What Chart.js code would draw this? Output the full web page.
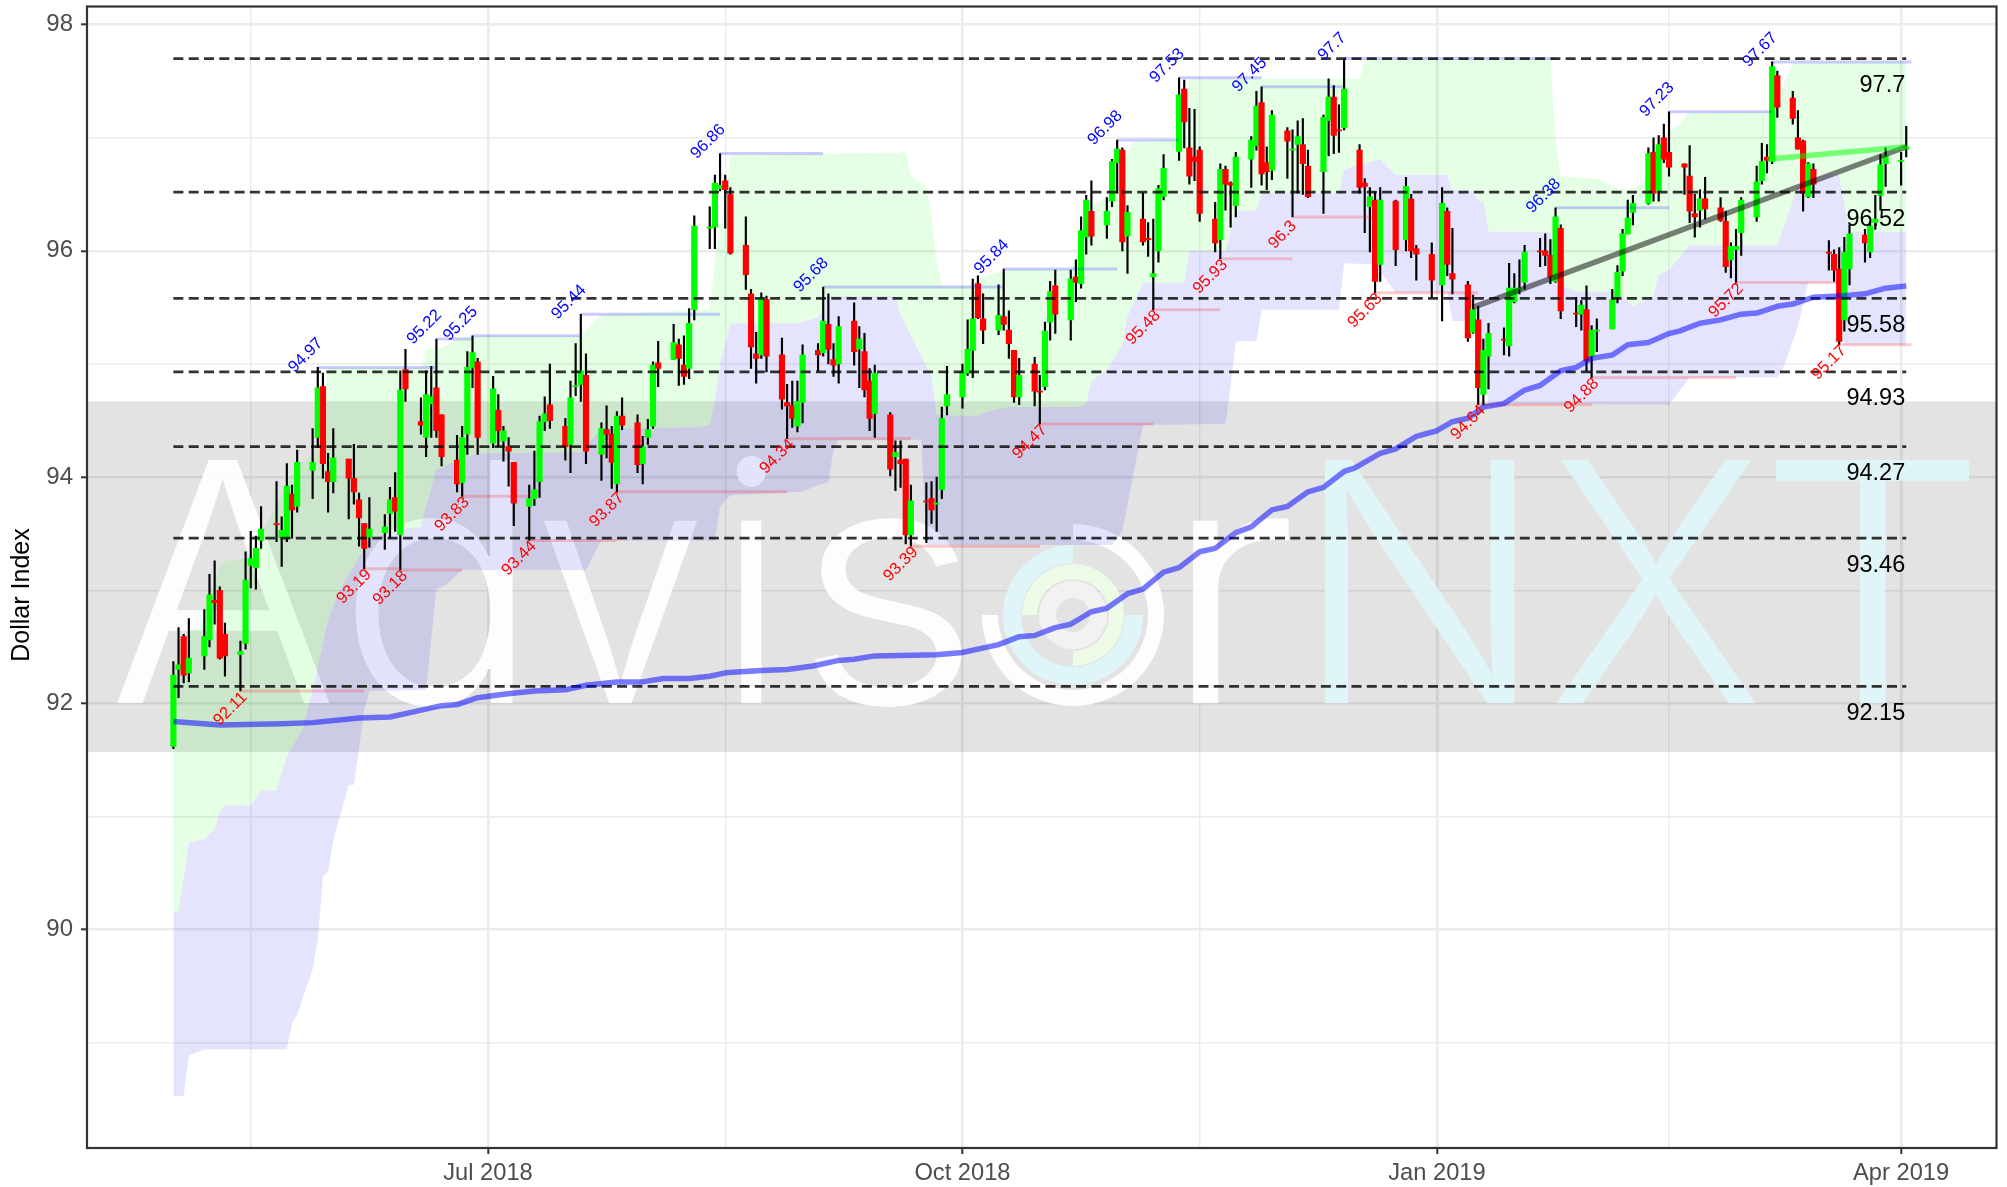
<!DOCTYPE html>
<html>
<head>
<meta charset="utf-8">
<title>Dollar Index</title>
<style>html,body{margin:0;padding:0;background:#fff}canvas{display:block}</style>
<script src="https://cdn.jsdelivr.net/npm/chart.js@4/dist/chart.umd.min.js"></script>
</head>
<body>
<canvas id="c" width="2007" height="1187"></canvas>
<script>
// Day numbers count calendar days from 1 May 2018.
const days = [0,1,2,3, 6,7,8,9,10, 13,14,15,16,17, 20,21,22,23,24, 27,28,29,30,31, 34,35,36,37,38, 41,42,43,44,45, 48,49,50,51,52, 55,56,57,58,59,
 62,63,64,65,66, 69,70,71,72,73, 76,77,78,79,80, 83,84,85,86,87, 90,91,92,93,94, 97,98,99,100,101, 104,105,106,107,108, 111,112,113,114,115, 118,119,120,121,122,
 125,126,127,128,129, 132,133,134,135,136, 139,140,141,142,143, 146,147,148,149,150, 153,154,155,156,157, 160,161,162,163,164, 167,168,169,170,171, 174,175,176,177,178, 181,182,183,184,185,
 188,189,190,191,192, 195,196,197,198,199, 202,203,204,205,206, 209,210,211,212,213, 216,217,218,219,220, 223,224,225,226,227, 230,231,232,233,234, 237,239,240,241, 244,246,247,248,
 251,252,253,254,255, 258,259,260,261,262, 265,266,267,268,269, 272,273,274,275,276, 279,280,281,282,283, 286,287,288,289,290, 293,294,295,296,297, 300,301,302,303,304,
 307,308,309,310,311, 314,315,316,317,318, 321,322,323,324,325, 328,329,330,331,332, 335,336];

const opens = [91.62,92.30,92.59,92.27, 92.42,92.56,92.91,93.00,92.61, 92.43,92.53,93.22,93.20,93.44, 93.59,93.46,93.46,93.85,93.74, 94.06,94.35,94.80,94.05,93.96, 94.16,93.99,93.80,93.59,93.47, 93.51,93.68,93.82,93.49,94.95, 94.49,94.35,94.65,94.79,94.55, 94.15,93.95,94.38,94.97,95.02,
 94.30,94.59,94.32,94.27,94.13, 93.74,93.81,93.96,94.49,94.64, 94.45,94.29,94.80,94.82,94.90, 94.20,94.42,94.38,93.94,94.54, 94.48,94.12,94.35,94.45,95.01, 95.04,95.17,94.99,94.96,95.48, 96.20,96.21,96.55,96.62,96.50, 96.05,95.62,95.09,95.08,95.57, 95.08,94.66,94.63,94.45,94.66,
 95.12,95.10,95.35,95.04,95.00, 95.38,95.13,95.11,94.85,94.56, 94.55,94.18,94.15,94.16,93.49, 93.79,93.81,93.76,93.89,94.63, 94.71,94.92,95.12,95.71,95.40, 95.30,95.42,95.30,95.12,94.71, 95.00,94.76,94.80,95.37,95.69, 95.39,95.77,95.71,96.12,96.35,
 96.23,96.44,96.78,96.89,96.13, 96.28,96.11,95.77,96.00,96.48, 96.88,97.43,96.91,96.83,96.89, 96.28,96.10,96.72,96.60,96.40, 96.81,96.93,97.31,96.78,96.71, 97.06,96.89,96.94,96.94,96.75, 96.70,97.15,97.36,97.07,97.09, 96.89,96.60,96.39,96.45,95.88, 96.44,96.10,96.46,96.02, 95.97,95.70,96.35,95.80,
 95.70,95.28,95.39,94.73,95.07, 95.22,95.16,95.55,95.66,95.72, 96.00,96.00,95.96,95.73,96.20, 95.45,95.44,95.48,95.07,95.29, 95.31,95.59,95.82,96.15,96.34, 96.42,96.87,96.53,97.00,96.87, 96.77,96.66,96.33,96.36,96.46, 96.38,96.26,95.92,96.01,96.16,
 96.30,96.62,96.83,96.79,97.55, 97.35,97.00,96.97,96.48,96.72, 95.99,95.97,95.84,95.39,95.84, 96.14,95.99,96.25,96.49,96.77, 96.79,96.90];

const highs = [92.37,92.67,92.61,92.75, 92.83,93.14,93.26,93.03,92.71, 92.55,93.34,93.52,93.48,93.74, 93.96,93.65,94.12,93.93,94.24, 94.43,94.97,94.92,94.21,94.43, 94.16,94.29,93.86,93.59,93.82, 93.67,93.91,94.04,94.94,95.13, 94.70,94.94,94.98,95.22,94.55, 94.37,94.45,95.11,95.25,95.05,
 94.89,94.73,94.45,94.35,94.13, 93.93,94.23,94.54,94.71,95.00, 94.52,94.85,95.18,95.44,95.09, 94.48,94.63,94.45,94.58,94.70, 94.55,94.36,94.51,95.02,95.20, 95.35,95.22,95.25,95.49,96.31, 96.39,96.67,96.86,96.67,96.56, 96.30,95.66,95.28,95.63,95.60, 95.23,94.82,94.85,94.85,95.17,
 95.18,95.68,95.62,95.18,95.42, 95.54,95.33,95.27,94.96,94.99, 94.57,94.32,94.32,94.16,93.93, 93.95,93.96,94.00,94.62,94.98, 95.00,95.39,95.75,95.78,95.62, 95.70,95.84,95.47,95.12,95.05, 95.06,94.90,95.37,95.73,95.83, 95.83,95.92,96.30,96.49,96.62,
 96.47,96.81,96.98,96.91,96.40, 96.51,96.25,96.28,96.58,96.85, 97.53,97.51,97.26,97.25,96.92, 96.43,96.77,96.75,96.61,96.87, 97.01,97.41,97.45,96.92,97.24, 97.09,97.07,97.15,97.17,96.89, 97.20,97.52,97.46,97.29,97.70, 96.94,96.64,96.56,96.52,96.56, 96.45,96.65,96.50,96.05, 96.07,96.56,96.38,96.20,
 95.73,95.61,95.51,95.22,95.36, 95.32,95.89,95.80,95.92,96.05, 96.11,96.15,96.10,96.38,96.23, 95.59,95.56,95.69,95.34,95.40, 95.66,95.87,96.19,96.45,96.49, 96.91,97.00,97.02,97.12,97.23, 96.77,96.93,96.50,96.54,96.65, 96.47,96.35,96.07,96.19,96.47,
 96.75,96.95,96.94,97.67,97.59, 97.41,97.24,96.98,96.78,96.77, 96.09,96.01,96.03,96.12,96.23, 96.19,96.26,96.49,96.85,96.91, 96.87,97.10];

const lows = [91.60,92.05,92.18,92.19, 92.30,92.50,92.70,92.39,92.24, 92.11,92.48,93.02,93.01,93.37, 93.43,93.21,93.43,93.46,93.69, 93.81,94.26,93.99,93.69,93.86, 93.63,93.76,93.39,93.19,93.38, 93.36,93.46,93.52,93.18,94.67, 94.38,94.18,94.35,94.35,94.10, 93.87,93.83,94.20,94.79,94.20,
 94.26,94.27,94.14,93.92,93.57, 93.44,93.75,93.82,94.41,94.43, 94.15,94.04,94.72,94.67,94.12, 93.97,94.17,93.90,93.87,94.42, 94.04,93.94,94.29,94.43,94.80, 95.04,94.81,94.82,94.87,95.39, 96.02,96.02,96.53,96.20,95.97, 95.66,94.96,94.83,95.05,94.93, 94.60,94.34,94.44,94.40,94.48,
 94.94,95.07,95.00,94.89,94.83, 94.99,94.79,94.71,94.41,94.35, 94.01,93.88,93.91,93.41,93.39, 93.42,93.59,93.52,93.81,94.55, 94.61,94.90,94.88,95.40,95.18, 95.26,95.30,95.05,94.66,94.64, 94.63,94.47,94.77,95.21,95.27, 95.21,95.55,95.67,95.97,96.05,
 96.11,96.39,96.51,96.00,95.80, 96.05,95.95,95.48,95.90,96.45, 96.80,96.91,96.59,96.62,96.26, 95.99,95.93,96.36,96.21,96.30, 96.56,96.89,96.58,96.54,96.63, 96.64,96.30,96.51,96.50,96.47, 96.33,96.84,96.86,96.87,97.07, 96.51,96.16,95.99,95.63,95.73, 95.87,96.00,95.94,95.74, 95.59,95.38,95.78,95.62,
 95.20,95.27,94.64,94.64,94.78, 95.08,95.07,95.54,95.62,95.66, 95.86,95.87,95.71,95.72,95.40, 95.33,95.30,94.94,94.88,95.11, 95.31,95.54,95.78,96.15,96.23, 96.41,96.44,96.44,96.78,96.66, 96.50,96.25,96.12,96.21,96.28, 96.26,95.81,95.76,95.72,95.96,
 96.26,96.59,96.69,96.77,97.18, 97.12,96.90,96.35,96.47,96.47, 95.83,95.73,95.17,95.29,95.70, 95.90,95.94,96.19,96.36,96.57, 96.58,96.83];

const closes = [92.25,92.34,92.25,92.40, 92.59,92.96,92.89,92.40,92.42, 92.46,93.09,93.28,93.37,93.54, 93.58,93.53,93.92,93.71,94.13, 94.13,94.79,94.12,93.96,94.17, 93.99,93.87,93.64,93.37,93.54, 93.56,93.80,93.70,94.77,94.78, 94.46,94.73,94.71,94.41,94.18, 93.94,94.35,94.97,95.10,94.35,
 94.78,94.41,94.41,94.23,93.77, 93.81,93.89,94.49,94.56,94.50, 94.27,94.70,94.81,94.94,94.23, 94.43,94.38,94.13,94.54,94.46, 94.11,94.27,94.42,94.99,94.96, 95.19,95.05,94.89,95.36,96.22, 96.21,96.60,96.58,96.54,95.98, 95.79,95.15,95.05,95.58,95.07, 94.69,94.63,94.52,94.67,95.08,
 95.08,95.38,95.13,94.99,95.33, 95.11,95.22,94.77,94.52,94.92, 94.07,94.22,94.12,93.49,93.79, 93.78,93.71,93.77,94.52,94.73, 94.93,95.13,95.40,95.41,95.30, 95.43,95.35,95.18,94.71,94.90, 94.76,94.75,95.29,95.64,95.44, 95.75,95.72,96.18,96.45,96.13,
 96.35,96.79,96.90,96.08,96.34, 96.08,96.10,95.80,96.55,96.73, 97.38,97.14,96.66,96.79,96.33, 96.07,96.72,96.59,96.58,96.83, 96.98,97.28,96.68,96.70,97.20, 96.97,96.90,97.01,96.77,96.48, 97.18,97.36,97.02,97.06,97.43, 96.56,96.57,96.48,95.73,96.45, 96.01,96.57,96.00,95.97, 95.74,96.42,95.88,95.75,
 95.23,95.48,94.79,95.12,95.27, 95.21,95.67,95.67,95.67,95.99, 95.99,95.96,95.77,96.30,95.47, 95.44,95.52,95.03,95.30,95.30, 95.57,95.81,96.15,96.29,96.42, 96.86,96.51,96.94,96.81,96.74, 96.74,96.35,96.30,96.46,96.37, 96.27,95.86,96.04,96.04,96.45,
 96.61,96.79,96.80,97.63,97.27, 97.17,96.90,96.51,96.77,96.59, 95.98,95.83,95.20,95.99,96.15, 96.07,96.22,96.28,96.76,96.84, 96.80,96.92];

const maDays = [0,9,21,27,36,42,47,52,55,59,64,70,76,80,86,91,95,100,104,107,114,119,124,129,132,136,148,153,158,160,164,167,171,174,178,181,185,188,192,195,199,202,206,209,213,216,220,223,227,229,234,237,241,245,248,251,254,258,262,265,269,272,275,279,282,286,290,292,296,300,304,307,311,314,318,323,328,332,336];
const maValues = [91.84,91.81,91.82,91.83,91.87,91.88,91.93,91.98,91.99,92.05,92.08,92.11,92.12,92.16,92.19,92.19,92.22,92.22,92.24,92.27,92.29,92.30,92.33,92.38,92.39,92.42,92.43,92.45,92.50,92.52,92.59,92.60,92.67,92.70,92.81,92.84,92.97,93.01,93.16,93.20,93.34,93.37,93.51,93.56,93.71,93.74,93.87,93.91,94.05,94.08,94.21,94.25,94.36,94.41,94.49,94.52,94.62,94.65,94.77,94.81,94.94,94.97,95.05,95.08,95.17,95.19,95.27,95.29,95.36,95.39,95.44,95.45,95.51,95.53,95.59,95.60,95.62,95.67,95.69];

const upperDays = [0,1,3,5,9,10,15,17,20,22,24,27,28,30,48,49,52,55,59,79,83,104,105,107,108,142,143,146,147,148,149,155,156,162,174,177,178,181,183,184,186,195,197,230,231,267,268,269,276,279,282,285,288,292,294,310,314,336];
const upperValues = [92.24,92.45,92.65,92.66,93.21,93.26,93.28,93.5,93.75,93.95,94.1,94.2,94.27,94.97,94.97,95.13,95.14,95.22,95.25,95.25,95.44,95.48,95.92,96.45,96.85,96.87,96.67,96.56,96.31,95.9,95.69,95.69,95.75,95.84,95.84,96.16,96.39,96.48,96.50,96.75,96.97,96.98,97.52,97.52,97.70,97.70,96.98,96.66,96.64,96.57,96.53,96.6,97.0,97.12,97.22,97.23,97.66,97.67];

const midDays = [0,1,3,6,8,9,10,15,17,20,22,25,27,30,32,36,38,44,48,49,51,52,55,59,79,83,101,104,105,106,108,121,125,127,140,141,147,148,156,157,162,176,177,178,181,184,185,188,196,197,204,206,210,211,226,227,234,237,247,248,252,253,254,255,267,269,272,280,283,287,288,290,294,311,315,317,321,323,325,336];
const midValues = [90.16,90.16,90.77,90.80,90.89,91.04,91.10,91.10,91.23,91.23,91.53,91.77,92.12,92.74,92.98,93.29,93.45,93.54,93.56,93.74,94.07,94.08,94.15,94.21,94.22,94.43,94.44,94.46,94.68,95.0,95.36,95.36,95.41,95.60,95.60,95.44,94.89,94.55,94.54,94.57,94.62,94.62,94.65,94.85,94.95,95.17,95.42,95.72,95.72,96.0,96.0,96.36,96.36,96.51,96.51,96.72,96.81,96.67,96.67,96.54,96.53,96.44,96.44,96.17,96.17,95.69,95.64,95.64,95.51,95.60,95.79,95.83,96.05,96.05,96.57,96.63,96.68,96.67,96.17,96.17];

const lowerDays = [0,2,3,6,22,23,24,27,28,29,30,31,34,35,36,37,38,49,51,53,56,80,83,105,106,108,122,125,127,128,129,145,146,182,184,188,204,205,206,210,211,226,227,233,237,247,248,252,255,290,294,311,312,315,317,323,324,336];
const lowerValues = [88.53,88.53,88.89,88.94,88.94,89.17,89.25,89.65,89.91,90.47,90.51,90.79,91.28,91.28,91.59,91.94,92.11,92.12,93.01,93.05,93.18,93.18,93.44,93.44,93.74,93.84,93.87,93.93,93.95,94.24,94.33,94.33,93.40,93.40,93.52,94.46,94.47,94.80,95.20,95.20,95.48,95.48,95.89,95.88,95.63,95.63,95.38,95.38,94.65,94.64,94.88,94.88,94.95,95.33,95.72,95.72,95.17,95.17];

const swingHighDays = [28,51,58,79,106,126,161,183,195,211,227,268,290,310];
const swingHighValues = [94.97,95.22,95.25,95.44,96.86,95.68,95.84,96.98,97.53,97.45,97.7,96.38,97.23,97.67];
const swingLowDays = [13,37,44,56,69,86,119,143,168,190,203,217,233,253,275,303,323];
const swingLowValues = [92.11,93.19,93.18,93.83,93.44,93.87,94.34,93.39,94.47,95.48,95.93,96.3,95.63,94.64,94.88,95.72,95.17];
const swingEndDay = 337;

const levelValues = [97.7,96.52,95.58,94.93,94.27,93.46,92.15];
const levelStartDay = 0, levelEndDay = 336;

const grayTrendDays = [252,336];
const grayTrendValues = [95.50,96.92];
const greenTrendDays = [309,336];
const greenTrendValues = [96.81,96.92];

const bandLow = 91.57, bandHigh = 94.67;

const xMajorDays = [61,153,245,335];
const xMajorLabels = ['Jul 2018','Oct 2018','Jan 2019','Apr 2019'];
const xMinorDays = [15,107,199,290];
const yMajorTicks = [90,92,94,96,98];
const yMinorTicks = [89,91,93,95,97];
const yAxisTitle = 'Dollar Index';

const FONT = '"Liberation Sans", Arial, sans-serif';
const zip = (xs, ys) => xs.map((x, i) => ({x, y: ys[i]}));

function swingSegments(ds, vs) {
  const out = [];
  ds.forEach((d, i) => {
    const end = i + 1 < ds.length ? ds[i + 1] : swingEndDay;
    out.push({x: d, y: vs[i]}, {x: end, y: vs[i]}, {x: end, y: null});
  });
  return out;
}
function levelSegments() {
  const out = [];
  levelValues.forEach(v => out.push({x: levelStartDay, y: v}, {x: levelEndDay, y: v}, {x: levelEndDay, y: null}));
  return out;
}

const lineBase = {type: 'line', pointRadius: 0, tension: 0, fill: false, spanGaps: false};

const backdrop = {
  id: 'backdrop',
  beforeDatasetsDraw(chart) {
    const {ctx, chartArea: a, scales: {y}} = chart;
    const top = y.getPixelForValue(bandHigh), bot = y.getPixelForValue(bandLow);
    ctx.save();
    ctx.fillStyle = 'rgba(0,0,0,0.11)';
    ctx.fillRect(a.left, top, a.right - a.left, bot - top);

    // Watermark
    ctx.beginPath(); ctx.rect(a.left, top, a.right - a.left, bot - top); ctx.clip();
    ctx.globalAlpha = 0.93;
    const base = 703, size = 334;
    ctx.font = '350 ' + size + 'px Inter, "Open Sans", sans-serif';
    ctx.textBaseline = 'alphabetic';
    ctx.textAlign = 'left';
    const letters = [
      ['A', 113, 333, '#ffffff'], ['d', 353, 517, '#ffffff'], ['v', 543, 700, '#ffffff'],
      ['i', 735, 768, '#ffffff'], ['s', 811, 964, '#ffffff'], ['r', 1191, 1292, '#ffffff'],
      ['N', 1324, 1517, '#e0f6fa'], ['X', 1552, 1758, '#e0f6fa'], ['T', 1774, 1973, '#e0f6fa']
    ];
    letters.forEach(([ch, x0, x1, col]) => {
      const m = ctx.measureText(ch);
      const w = m.actualBoundingBoxLeft + m.actualBoundingBoxRight;
      const sx = (x1 - x0) / w;
      ctx.save();
      ctx.translate(x0 + m.actualBoundingBoxLeft * sx, base);
      ctx.scale(sx, 1);
      ctx.fillStyle = col;
      ctx.fillText(ch, 0, 0);
      ctx.restore();
    });
    // Logo rings forming the "o"
    const cx = 1073, cy = 615, rad = Math.PI / 180;
    const ring = (r0, r1, a0, a1, col) => {
      ctx.beginPath();
      ctx.arc(cx, cy, r1, a0 * rad, a1 * rad);
      ctx.arc(cx, cy, r0, a1 * rad, a0 * rad, true);
      ctx.closePath();
      ctx.fillStyle = col;
      ctx.fill();
    };
    ring(75, 91, -90, 180, '#ffffff');
    ring(52, 70, 0, 270, '#e0f6fa');
    ring(36, 51, 180, 450, '#eefce6');
    ring(17, 34, 0, 360, '#f3f3f3');
    ctx.restore();
  }
};

const foreground = {
  id: 'foreground',
  afterDatasetsDraw(chart) {
    const {ctx, scales: {x, y}} = chart;
    ctx.save();
    ctx.font = '16.5px ' + FONT;
    ctx.textAlign = 'center';
    ctx.textBaseline = 'middle';
    const swingText = (ds, vs, col, dx, dy) => {
      ctx.fillStyle = col;
      ds.forEach((d, i) => {
        ctx.save();
        ctx.translate(x.getPixelForValue(d) + dx, y.getPixelForValue(vs[i]) + dy);
        ctx.rotate(-Math.PI / 4);
        ctx.fillText(String(vs[i]), 0, 0);
        ctx.restore();
      });
    };
    swingText(swingHighDays, swingHighValues, '#0000ff', -12, -12);
    swingText(swingLowDays, swingLowValues, '#ff0000', -10, 18);

    ctx.font = '23.5px ' + FONT;
    ctx.textAlign = 'right';
    ctx.fillStyle = '#000000';
    levelValues.forEach(v => {
      ctx.fillText(String(v), x.getPixelForValue(levelEndDay) - 1, y.getPixelForValue(v) + 27);
    });
    ctx.restore();
  },
  afterDraw(chart) {
    const {ctx, chartArea: a} = chart;
    ctx.save();
    ctx.strokeStyle = '#333333';
    ctx.lineWidth = 2.2;
    ctx.strokeRect(a.left, a.top, a.right - a.left, a.bottom - a.top);
    // Axis title
    ctx.translate(22, 595);
    ctx.rotate(-Math.PI / 2);
    ctx.font = '25px ' + FONT;
    ctx.fillStyle = '#000000';
    ctx.textAlign = 'center';
    ctx.textBaseline = 'middle';
    ctx.fillText(yAxisTitle, 0, 0);
    ctx.restore();
  }
};

new Chart(document.getElementById('c').getContext('2d'), {
  type: 'bar',
  data: {
    datasets: [
      {...lineBase, label: 'Upper', order: 100, data: zip(upperDays, upperValues), borderWidth: 0, borderColor: 'transparent',
        fill: '+1', backgroundColor: 'rgba(0,255,0,0.105)'},
      {...lineBase, label: 'Mid', order: 99, data: zip(midDays, midValues), borderWidth: 0, borderColor: 'transparent',
        fill: '+1', backgroundColor: 'rgba(0,0,255,0.105)'},
      {...lineBase, label: 'Lower', order: 98, data: zip(lowerDays, lowerValues), borderWidth: 0, borderColor: 'transparent'},
      {type: 'bar', label: 'Range', order: 50, grouped: false, barThickness: 1.5, backgroundColor: '#000000',
        data: days.map((d, i) => ({x: d, y: [lows[i], highs[i]]}))},
      {type: 'bar', label: 'Body', order: 40, grouped: false, barThickness: 5.5,
        backgroundColor: days.map((d, i) => closes[i] >= opens[i] ? '#00ff00' : '#ff0000'),
        data: days.map((d, i) => ({x: d, y: [opens[i], closes[i]]}))},
      {...lineBase, label: 'Swing highs', order: 30, data: swingSegments(swingHighDays, swingHighValues), borderWidth: 3, borderColor: 'rgba(0,0,255,0.2)', borderCapStyle: 'butt'},
      {...lineBase, label: 'Swing lows', order: 29, data: swingSegments(swingLowDays, swingLowValues), borderWidth: 3, borderColor: 'rgba(255,0,0,0.2)', borderCapStyle: 'butt'},
      {...lineBase, label: 'Levels', order: 20, data: levelSegments(), borderWidth: 2.7, borderColor: 'rgba(0,0,0,0.8)', borderDash: [10, 5.3]},
      {...lineBase, label: 'Average', order: 10, data: zip(maDays, maValues), borderWidth: 5.5, borderColor: 'rgba(0,0,255,0.52)', borderJoinStyle: 'round'},
      {...lineBase, label: 'Trend', order: 5, data: zip(grayTrendDays, grayTrendValues), borderWidth: 5.5, borderColor: 'rgba(0,0,0,0.5)'},
      {...lineBase, label: 'Trend 2', order: 4, data: zip(greenTrendDays, greenTrendValues), borderWidth: 5.5, borderColor: 'rgba(0,255,0,0.5)'}
    ]
  },
  options: {
    responsive: false,
    devicePixelRatio: 1,
    animation: false,
    events: [],
    layout: {padding: {left: 0, right: 10.5, top: 6.5, bottom: 0}},
    plugins: {legend: {display: false}, title: {display: false}, tooltip: {enabled: false}},
    scales: {
      x: {
        type: 'linear',
        offset: false,
        min: -16.75,
        max: 353.5,
        border: {display: false},
        afterBuildTicks(s) { s.ticks = [...xMajorDays, ...xMinorDays].sort((a, b) => a - b).map(v => ({value: v})); },
        afterFit(s) { s.height = 39; s.paddingLeft = 0; s.paddingRight = 0; },
        grid: {
          offset: false,
          color: '#ebebeb',
          lineWidth: c => xMajorDays.includes(c.tick && c.tick.value) ? 2.6 : 1.4,
          tickColor: c => xMajorDays.includes(c.tick && c.tick.value) ? '#333333' : 'rgba(0,0,0,0)',
          tickWidth: 2,
          tickLength: 6
        },
        ticks: {
          autoSkip: false, maxRotation: 0, minRotation: 0, padding: 5, color: '#4d4d4d',
          font: {family: FONT, size: 23.7},
          callback: v => { const i = xMajorDays.indexOf(v); return i >= 0 ? xMajorLabels[i] : ''; }
        }
      },
      y: {
        type: 'linear',
        min: 88.07,
        max: 98.16,
        beginAtZero: false,
        border: {display: false},
        afterBuildTicks(s) { s.ticks = [...yMajorTicks, ...yMinorTicks].sort((a, b) => a - b).map(v => ({value: v})); },
        afterFit(s) { s.width = 87; s.paddingTop = 0; s.paddingBottom = 0; },
        grid: {
          color: '#ebebeb',
          lineWidth: c => yMajorTicks.includes(c.tick && c.tick.value) ? 2.6 : 1.4,
          tickColor: c => yMajorTicks.includes(c.tick && c.tick.value) ? '#333333' : 'rgba(0,0,0,0)',
          tickWidth: 2,
          tickLength: 6
        },
        ticks: {
          autoSkip: false, padding: 8, color: '#4d4d4d',
          font: {family: FONT, size: 24},
          callback: v => yMajorTicks.includes(v) ? String(v) : ''
        }
      }
    }
  },
  plugins: [backdrop, foreground]
});
</script>
</body>
</html>
